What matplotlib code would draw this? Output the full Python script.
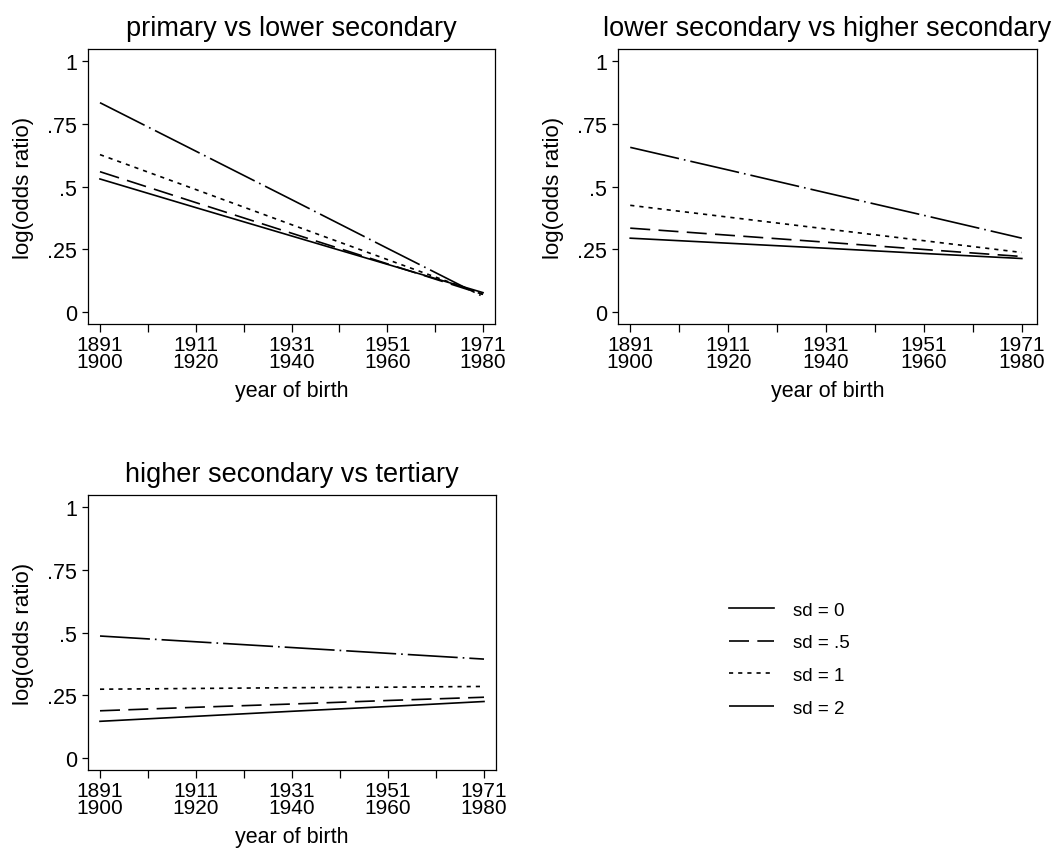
import numpy as np
import matplotlib
matplotlib.use("Agg")
import matplotlib.pyplot as plt

plt.rcParams['font.family'] = ['Liberation Sans', 'DejaVu Sans']

cohort = [1, 2, 3, 4, 5]
tick_labels = ["1891\n1900", "1911\n1920", "1931\n1940", "1951\n1960", "1971\n1980"]
sd_labels = ["sd = 0", "sd = .5", "sd = 1", "sd = 2"]

titles = ["primary vs lower secondary",
          "lower secondary vs higher secondary",
          "higher secondary vs tertiary"]

# log odds ratios, one list per sd value, read at each cohort
p1_sd0 = [0.530, 0.416, 0.303, 0.190, 0.077]
p1_sd05 = [0.559, 0.436, 0.314, 0.192, 0.070]
p1_sd1 = [0.627, 0.488, 0.348, 0.209, 0.070]
p1_sd2 = [0.834, 0.641, 0.448, 0.254, 0.061]

p2_sd0 = [0.294, 0.274, 0.254, 0.233, 0.213]
p2_sd05 = [0.334, 0.306, 0.278, 0.249, 0.221]
p2_sd1 = [0.425, 0.378, 0.331, 0.284, 0.237]
p2_sd2 = [0.656, 0.566, 0.475, 0.385, 0.294]

p3_sd0 = [0.146, 0.166, 0.186, 0.205, 0.225]
p3_sd05 = [0.188, 0.202, 0.215, 0.229, 0.242]
p3_sd1 = [0.274, 0.277, 0.280, 0.282, 0.285]
p3_sd2 = [0.486, 0.463, 0.440, 0.417, 0.394]

panels = [[p1_sd0, p1_sd05, p1_sd1, p1_sd2],
          [p2_sd0, p2_sd05, p2_sd1, p2_sd2],
          [p3_sd0, p3_sd05, p3_sd1, p3_sd2]]

styles = ['-', (0, (12, 5)), (0, (2.5, 3)), (0, (30, 3, 1, 3))]

W, H = 1058, 853
fig = plt.figure(figsize=(W / 100, H / 100), dpi=100)

# axes boxes in pixels: left, top, right, bottom
boxes = [(88, 50, 495, 325), (618, 50, 1037, 325), (88, 496, 496, 771)]
xlims = [(0.875, 5.125), (0.875, 5.125 + 0.03), (0.875, 5.125)]
ylab_x = [34, 564, 34]

lines = []
for i, (l, t, r, b) in enumerate(boxes):
    ax = fig.add_axes([l / W, 1 - b / H, (r - l) / W, (b - t) / H])
    for vals, ls in zip(panels[i], styles):
        ln, = ax.plot(cohort, vals, color='black', linestyle=ls, linewidth=1.2)
        if i == 0:
            lines.append(ln)
    ax.set_xlim(*xlims[i])
    ax.set_ylim(-0.048, 1.048)
    ax.set_xticks(cohort)
    ax.set_xticklabels(tick_labels, fontsize=15, linespacing=0.85)
    ax.set_xticks([1.5, 2.5, 3.5, 4.5], minor=True)
    ax.set_yticks([0, 0.25, 0.5, 0.75, 1])
    ax.set_yticklabels(["0", ".25", ".5", ".75", "1"], fontsize=15.5)
    ax.tick_params(axis='x', which='both', direction='out', length=5.8, width=0.9, pad=2)
    ax.tick_params(axis='y', which='both', direction='out', length=4.5, width=0.9, pad=3.5)
    for s in ax.spines.values():
        s.set_linewidth(0.9)
    ax.set_xlabel("year of birth", fontsize=15.5, va='top')
    ax.xaxis.set_label_coords(0.5, -56 / (b - t))
    ax.set_ylabel("log(odds ratio)", fontsize=16)
    ax.yaxis.set_label_coords((ylab_x[i] - l) / (r - l), 0.5)
    ax.set_title(titles[i], fontsize=19.5, pad=10)

fig.legend(lines, sd_labels, loc='center left', bbox_to_anchor=(712 / W, 1 - 660 / H),
           frameon=False, fontsize=13.5, handlelength=2.4, labelspacing=0.83,
           handletextpad=1.0)

fig.savefig("out.png", dpi=100)
